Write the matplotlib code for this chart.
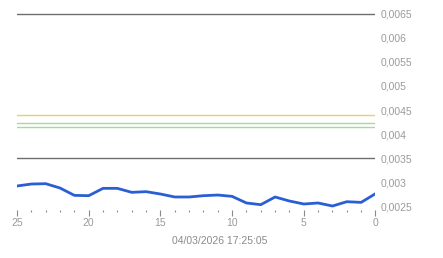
import matplotlib
matplotlib.use("Agg")
import matplotlib.pyplot as plt
from matplotlib.ticker import MultipleLocator, FuncFormatter

# Data
x_vals = list(range(25, -1, -1))
price = [0.002917, 0.002958, 0.002965, 0.002875, 0.002722, 0.002715, 0.002868,
         0.002868, 0.002785, 0.002799, 0.002750, 0.002688, 0.002688, 0.002715,
         0.002729, 0.002701, 0.002563, 0.002528, 0.002688, 0.002604, 0.002542,
         0.002563, 0.002500, 0.002590, 0.002576, 0.002757]
gray_levels = [0.0065, 0.0035]
yellow_level = 0.0044
green_levels = [0.00422, 0.00414]
y_ticks = [0.0025, 0.003, 0.0035, 0.004, 0.0045, 0.005, 0.0055, 0.006, 0.0065]
x_ticks = [25, 20, 15, 10, 5, 0]
date_label = "04/03/2026 17:25:05"

plt.rcParams['font.family'] = ['Liberation Sans', 'DejaVu Sans']

W, H = 443, 258
fig = plt.figure(figsize=(W / 100, H / 100), dpi=100)
ax = fig.add_axes([17 / W, 48 / H, 358.5 / W, 200 / H])

for lv in gray_levels:
    ax.axhline(lv, color='#6e6e6e', lw=1.0, zorder=2)
ax.axhline(yellow_level, color='#e8cf6a', lw=1.0, zorder=2)
for lv in green_levels:
    ax.axhline(lv, color='#a8d89a', lw=1.0, zorder=2)

ax.plot(x_vals, price, color='#2a5fd4', lw=2.0, zorder=3, solid_joinstyle='round')

ax.set_xlim(25, 0)
ax.set_ylim(0.002417, 0.006583)

ax.set_xticks(x_ticks)
ax.xaxis.set_minor_locator(MultipleLocator(1))
ax.set_yticks(y_ticks)
ax.yaxis.set_major_formatter(FuncFormatter(lambda v, p: ('%g' % v).replace('.', ',')))
ax.yaxis.tick_right()

ax.tick_params(axis='y', length=0, pad=4, labelsize=7.5, labelcolor='#9a9a9a')
ax.tick_params(axis='x', which='major', length=4.5, width=0.8, color='#8a8a8a',
               labelsize=7.5, labelcolor='#9a9a9a', pad=1.5)
ax.tick_params(axis='x', which='minor', length=1.5, width=0.8, color='#8a8a8a')

for s in ax.spines.values():
    s.set_visible(False)

fig.text(220 / W, 1 - 241 / H, date_label, ha='center', va='center',
         fontsize=7.5, color='#8a8a8a')

fig.savefig('out.png', dpi=100)
